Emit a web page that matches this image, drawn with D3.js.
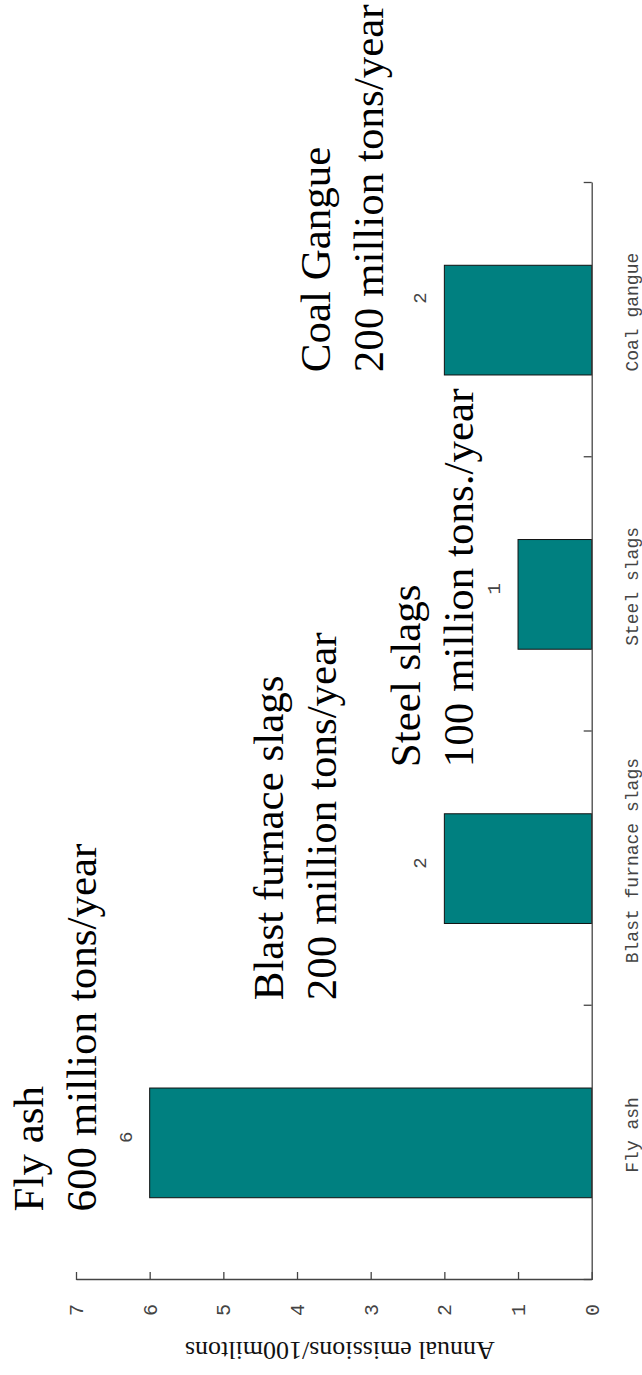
<!DOCTYPE html>
<html>
<head>
<meta charset="utf-8">
<script src="https://cdn.jsdelivr.net/npm/d3@7"></script>
<style>
  body { margin: 0; background: #fff; }
  svg { display: block; }
</style>
</head>
<body>
<div id="chart"></div>
<script>
// chart data
var categories = ["Fly ash", "Blast furnace slags", "Steel slags", "Coal gangue"];
var values = [6, 2, 1, 2];
var valueTicks = [0, 1, 2, 3, 4, 5, 6, 7];
var yTitle = "Annual emissions/100miltons";

// value labels (x in category units, like text() calls)
var labelX = [1, 2, 3, 4.06];

// annotations: two lines each, anchored in data units
var annoLines = [
  ["Fly ash", "600 million tons/year"],
  ["Blast furnace slags", "200 million tons/year"],
  ["Steel slags", "100 million tons./year"],
  ["Coal Gangue", "200 million tons/year"]
];
var annoX = [0.75, 1.52, 2.37, 3.81];
var annoY = [7.45, 4.19, 2.33, 3.55];

// page is the chart turned on its side
var W = 642, H = 1375;
// the unrotated chart is H wide and W tall
var svg = d3.select("#chart").append("svg")
  .attr("width", W)
  .attr("height", H);

var g = svg.append("g")
  .attr("transform", "translate(0," + H + ") rotate(-90)");

// scales (in the unrotated frame)
var x = d3.scaleLinear()
  .domain([0.5, 4.5])
  .range([95, 1192]);

var y = d3.scaleLinear()
  .domain([0, 7])
  .range([591.7, 76]);

var barW = 0.4;

// bars
g.selectAll(".bar")
  .data(values)
  .enter().append("rect")
  .attr("class", "bar")
  .attr("x", (d, i) => x(i + 1 - barW / 2))
  .attr("width", x(barW) - x(0))
  .attr("y", (d) => y(d))
  .attr("height", (d) => y(0) - y(d))
  .style("fill", "#008080")
  .style("stroke", "#111")
  .style("stroke-width", 1);

// value axis (ticks point inward)
var yAxis = g.append("g")
  .attr("class", "yAxis")
  .attr("transform", "translate(" + x(0.5) + ",0)")
  .call(d3.axisLeft(y)
    .tickValues(valueTicks)
    .tickSizeInner(-8)
    .tickSizeOuter(0)
    .tickPadding(24)
    .tickFormat(d3.format("d")));

// category axis, ticks between the bars
var xAxis = g.append("g")
  .attr("class", "xAxis")
  .attr("transform", "translate(0," + y(0) + ")")
  .call(d3.axisBottom(x)
    .tickValues([0.5, 1.5, 2.5, 3.5, 4.5])
    .tickSizeInner(-8)
    .tickSizeOuter(0)
    .tickFormat(""));

g.selectAll(".domain, .tick line")
  .style("stroke", "#444")
  .style("stroke-width", 1.3);

yAxis.selectAll("text")
  .style("font-family", "'Liberation Mono', monospace")
  .style("font-size", "20px")
  .style("fill", "#444");

// category labels
g.selectAll(".catLabel")
  .data(categories)
  .enter().append("text")
  .attr("class", "catLabel")
  .attr("x", (d, i) => x(i + 1) + 8)
  .attr("y", 638)
  .attr("text-anchor", "middle")
  .style("font-family", "'Liberation Mono', monospace")
  .style("font-size", "18px")
  .style("fill", "#444");

g.selectAll(".catLabel").text((d) => d);

// value labels over the bars
g.selectAll(".valLabel")
  .data(values)
  .enter().append("text")
  .attr("class", "valLabel")
  .attr("x", (d, i) => x(labelX[i]))
  .attr("y", (d) => y(d) - 18)
  .attr("text-anchor", "start")
  .style("font-family", "'Liberation Mono', monospace")
  .style("font-size", "19px")
  .style("fill", "#444")
  .text((d) => d);

// y axis title
g.append("text")
  .attr("transform", "translate(33," + ((y(0) + y(7)) / 2 + 6) + ") rotate(-90)")
  .attr("text-anchor", "middle")
  .style("font-family", "'Liberation Serif', 'Times New Roman', serif")
  .style("font-size", "26px")
  .style("fill", "#111")
  .text(yTitle);

// big annotations
var anno = g.selectAll(".anno")
  .data(annoLines)
  .enter().append("text")
  .attr("class", "anno")
  .attr("x", (d, i) => x(annoX[i]))
  .attr("y", (d, i) => y(annoY[i]))
  .style("font-family", "'Liberation Serif', 'Times New Roman', serif")
  .style("font-size", "43px")
  .style("fill", "#000");

anno.selectAll("tspan")
  .data((d) => d)
  .enter().append("tspan")
  .attr("x", function () { return d3.select(this.parentNode).attr("x"); })
  .attr("dy", (d, j) => j === 0 ? 0 : 53)
  .text((d) => d);
</script>
</body>
</html>
